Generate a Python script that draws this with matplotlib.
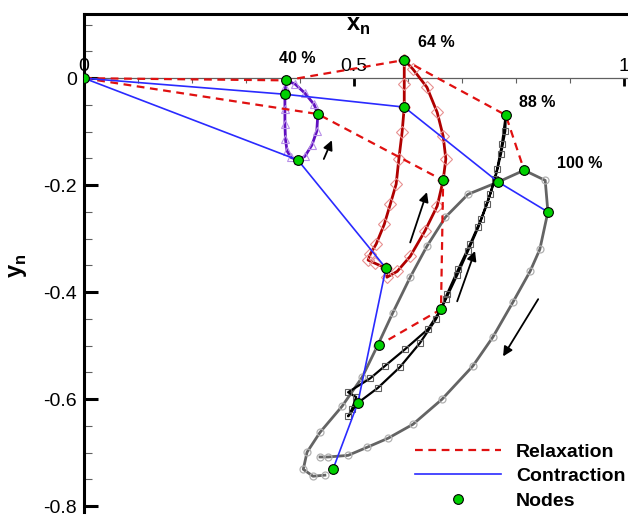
import matplotlib
matplotlib.use("Agg")
import matplotlib.pyplot as plt
from matplotlib.ticker import FixedLocator, FuncFormatter, MultipleLocator

plt.rcParams["font.family"] = ["Liberation Sans", "DejaVu Sans"]
plt.rcParams["axes.unicode_minus"] = False
plt.rcParams["mathtext.fontset"] = "custom"
plt.rcParams["mathtext.rm"] = "Liberation Sans"
plt.rcParams["mathtext.bf"] = "Liberation Sans:bold"

# ---- loop trajectories (x_n, y_n) ---------------------------------------
loop40_x = [0.374, 0.373, 0.372, 0.372, 0.372, 0.373, 0.376, 0.383, 0.396,
            0.409, 0.422, 0.431, 0.433, 0.426, 0.409, 0.391, 0.374]
loop40_y = [-0.004, -0.017, -0.030, -0.058, -0.086, -0.114, -0.136, -0.148, -0.153,
            -0.146, -0.125, -0.099, -0.067, -0.049, -0.028, -0.011, -0.004]

loop64_x = [0.593, 0.593, 0.593, 0.589, 0.583, 0.578, 0.567, 0.556, 0.541, 0.530,
            0.526, 0.539, 0.559, 0.561, 0.580, 0.604, 0.631, 0.654, 0.665, 0.670,
            0.665, 0.654, 0.635, 0.609, 0.593]
loop64_y = [0.034, -0.011, -0.054, -0.101, -0.151, -0.198, -0.236, -0.273, -0.310, -0.329,
            -0.340, -0.346, -0.355, -0.372, -0.361, -0.333, -0.286, -0.239, -0.191, -0.151,
            -0.108, -0.064, -0.017, 0.017, 0.034]

loop88_x = [0.781, 0.774, 0.765, 0.752, 0.735, 0.715, 0.693, 0.672, 0.661, 0.637,
            0.594, 0.557, 0.530, 0.489, 0.504, 0.496, 0.489, 0.507, 0.544, 0.585,
            0.622, 0.652, 0.670, 0.691, 0.711, 0.730, 0.746, 0.761, 0.772, 0.780, 0.781]
loop88_y = [-0.069, -0.123, -0.170, -0.217, -0.264, -0.310, -0.357, -0.404, -0.432, -0.469,
            -0.507, -0.538, -0.561, -0.587, -0.596, -0.619, -0.632, -0.607, -0.579, -0.540,
            -0.495, -0.450, -0.413, -0.368, -0.323, -0.279, -0.236, -0.189, -0.142, -0.099, -0.069]

loop100_x = [0.446, 0.424, 0.406, 0.413, 0.437, 0.478, 0.515, 0.543, 0.572, 0.604,
             0.635, 0.669, 0.711, 0.767, 0.815, 0.854, 0.859, 0.844, 0.826, 0.794,
             0.757, 0.720, 0.663, 0.609, 0.563, 0.524, 0.489, 0.452, 0.437]
loop100_y = [-0.742, -0.744, -0.731, -0.699, -0.662, -0.613, -0.559, -0.501, -0.438, -0.372,
             -0.314, -0.260, -0.217, -0.194, -0.172, -0.191, -0.250, -0.320, -0.361, -0.419,
             -0.484, -0.538, -0.600, -0.647, -0.673, -0.690, -0.705, -0.708, -0.708]

# ---- relaxation / contraction paths -------------------------------------
relax_a_x = [0.0, 0.374, 0.593, 0.781, 0.815]
relax_a_y = [0.0, -0.004, 0.034, -0.069, -0.172]
relax_b_x = [0.0, 0.433, 0.665, 0.661, 0.546]
relax_b_y = [0.0, -0.067, -0.191, -0.432, -0.499]

contr_a_x = [0.0, 0.372, 0.593, 0.767, 0.859]
contr_a_y = [0.0, -0.030, -0.054, -0.194, -0.250]
contr_b_x = [0.0, 0.396, 0.559, 0.507, 0.461]
contr_b_y = [0.0, -0.153, -0.355, -0.607, -0.731]

node_x = [0.0, 0.374, 0.372, 0.433, 0.396, 0.593, 0.593, 0.665, 0.559,
          0.781, 0.767, 0.661, 0.546, 0.507, 0.461, 0.815, 0.859]
node_y = [0.0, -0.004, -0.030, -0.067, -0.153, 0.034, -0.054, -0.191, -0.355,
          -0.069, -0.194, -0.432, -0.499, -0.607, -0.731, -0.172, -0.250]

# direction arrows: tail -> head
arrow_tail = [(0.444, -0.151), (0.604, -0.307), (0.691, -0.417), (0.841, -0.413)]
arrow_head = [(0.459, -0.116), (0.635, -0.213), (0.724, -0.323), (0.776, -0.520)]

pct_labels = ["40 %", "64 %", "88 %", "100 %"]
pct_x = [0.394, 0.652, 0.839, 0.918]
pct_y = [0.036, 0.067, -0.045, -0.159]

fig = plt.figure(figsize=(6.28, 5.15), dpi=100)
ax = fig.add_axes([0.1338, 0.0067, 0.8685, 0.9661])
ax.set_xlim(0, 1.01)
ax.set_ylim(-0.81, 0.12)

# loops
ax.plot(loop100_x, loop100_y, color="#646464", lw=2.0, marker="o", ms=5,
        mfc="none", mec="#b0b0b0", mew=0.9, zorder=2)
ax.plot(loop88_x, loop88_y, color="black", lw=1.6, marker="s", ms=4,
        mfc="none", mec="#606060", mew=0.8, zorder=3)
ax.plot(loop64_x, loop64_y, color="#b00000", lw=2.0, marker="D", ms=6,
        mfc="none", mec="#e89090", mew=0.8, zorder=3)
ax.plot(loop40_x, loop40_y, color="#6010c0", lw=2.0, marker="^", ms=6,
        mfc="none", mec="#b890e8", mew=0.8, zorder=3)

# relaxation / contraction
ax.plot(relax_a_x, relax_a_y, color="#e01010", lw=1.6, ls=(0, (3.5, 2.5)), zorder=4,
        label="Relaxation")
ax.plot(relax_b_x, relax_b_y, color="#e01010", lw=1.6, ls=(0, (3.5, 2.5)), zorder=4)
ax.plot(contr_a_x, contr_a_y, color="#2a2aff", lw=1.2, zorder=4, label="Contraction")
ax.plot(contr_b_x, contr_b_y, color="#2a2aff", lw=1.2, zorder=4)

ax.plot(node_x, node_y, ls="none", marker="o", ms=7, mfc="#00d000", mec="black",
        mew=0.8, zorder=6, label="Nodes")

for (tx, ty), (hx, hy) in zip(arrow_tail, arrow_head):
    ax.annotate("", xy=(hx, hy), xytext=(tx, ty),
                arrowprops=dict(arrowstyle="-|>", color="black", lw=1.3,
                                mutation_scale=14, shrinkA=0, shrinkB=0), zorder=5)

for s, px, py in zip(pct_labels, pct_x, pct_y):
    ax.text(px, py, s, ha="center", va="center", fontsize=11.5, fontweight="bold")

# axes styling: x axis drawn along y=0, labels above
ax.spines["right"].set_visible(False)
ax.spines["bottom"].set_visible(False)
ax.spines["top"].set_position(("data", 0))
ax.spines["top"].set_color("#606060")
ax.spines["top"].set_linewidth(0.9)
ax.spines["left"].set_linewidth(2.2)
ax.axhline(0.12, color="black", lw=2.2, clip_on=False, zorder=1)

ax.xaxis.tick_top()
ax.xaxis.set_major_locator(FixedLocator([0, 0.5, 1]))
ax.xaxis.set_minor_locator(MultipleLocator(0.1))
ax.xaxis.set_major_formatter(FuncFormatter(lambda v, p: "0" if v == 0 else f"{v:g}"))
ax.tick_params(axis="x", which="major", direction="in", length=6, width=2,
               color="black", labelsize=14, pad=2)
ax.tick_params(axis="x", which="minor", direction="in", length=3.5, width=0.8,
               color="#606060")

ax.yaxis.set_major_locator(FixedLocator([-0.8, -0.6, -0.4, -0.2, 0]))
ax.yaxis.set_minor_locator(MultipleLocator(0.05))
ax.yaxis.set_major_formatter(FuncFormatter(lambda v, p: "0" if abs(v) < 1e-9 else f"{v:.1f}"))
ax.tick_params(axis="y", which="major", direction="in", length=10, width=2.2,
               color="black", labelsize=14, pad=5)
ax.tick_params(axis="y", which="minor", direction="in", length=6, width=0.8,
               color="#606060")

ax.text(0.507, 0.097, r"$\mathbf{x}_{\mathbf{n}}$", ha="center", va="center", fontsize=17)
fig.text(18 / 628, 1 - 266 / 515, r"$\mathbf{y}_{\mathbf{n}}$", ha="center",
         va="center", rotation=90, fontsize=17)

ax.legend(loc="upper left", bbox_to_anchor=(415 / 628, 1 - 443 / 515),
          bbox_transform=fig.transFigure, frameon=False, borderpad=0,
          borderaxespad=0, handlelength=4.4, handletextpad=0.8, labelspacing=0.36,
          prop=dict(family="Liberation Sans", weight="bold", size=14))

fig.savefig("out.png", dpi=100)
